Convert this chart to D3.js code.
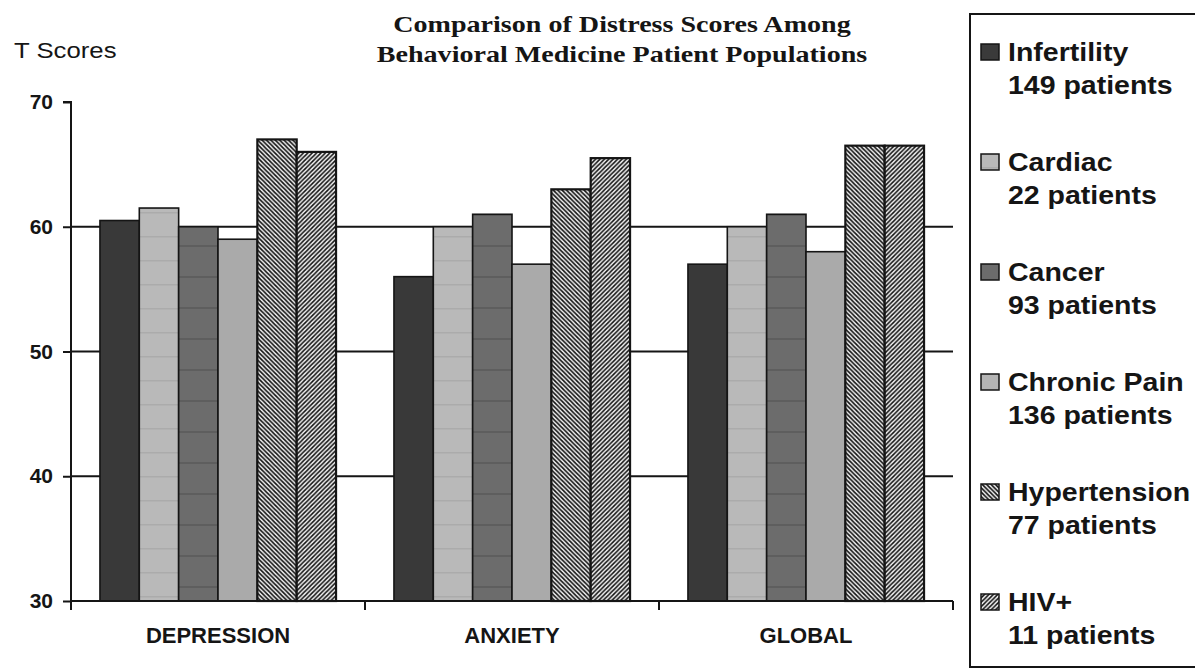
<!DOCTYPE html>
<html>
<head>
<meta charset="utf-8">
<script src="https://cdn.jsdelivr.net/npm/d3@7"></script>
<style>
  html, body { margin: 0; padding: 0; background: #ffffff; }
  svg { display: block; }
</style>
</head>
<body>
<svg id="chart" width="1195" height="668"></svg>
<script>
// Distress scale categories along the x axis
const categories = ["DEPRESSION", "ANXIETY", "GLOBAL"];

// Patient populations (one bar per population within each category)
const populations = ["Infertility", "Cardiac", "Cancer", "Chronic Pain", "Hypertension", "HIV+"];
const patientCounts = [149, 22, 93, 136, 77, 11];

// Mean T scores per population, ordered as the categories
const infertility  = [60.5, 56, 57];
const cardiac      = [61.5, 60, 60];
const cancer       = [60, 61, 61];
const chronicPain  = [59, 57, 58];
const hypertension = [67, 63, 66.5];
const hiv          = [66, 65.5, 66.5];

const yTicks = [30, 40, 50, 60, 70];
const gridValues = [40, 50, 60];

const titleLines = ["Comparison of Distress Scores Among", "Behavioral Medicine Patient Populations"];
const yLabel = "T Scores";

const seriesValues = [infertility, cardiac, cancer, chronicPain, hypertension, hiv];
const fills = ["#393939", "url(#cardiacTex)", "url(#cancerTex)", "#aaaaaa", "url(#hatchBack)", "url(#hatchFwd)"];

const svg = d3.select("#chart");
const ink = "#151515";

// ---- patterns ----
const defs = svg.append("defs");
const hb = defs.append("pattern").attr("id", "hatchBack").attr("patternUnits", "userSpaceOnUse")
  .attr("width", 4.4).attr("height", 4.4);
hb.append("rect").attr("width", 4.4).attr("height", 4.4).attr("fill", "#f2f2f2");
hb.append("path").attr("d", "M-1,-1 L5.4,5.4 M-1,3.4 L1,5.4 M3.4,-1 L5.4,1")
  .attr("stroke", "#111").attr("stroke-width", 1.6);

const hf = defs.append("pattern").attr("id", "hatchFwd").attr("patternUnits", "userSpaceOnUse")
  .attr("width", 4.4).attr("height", 4.4);
hf.append("rect").attr("width", 4.4).attr("height", 4.4).attr("fill", "#f2f2f2");
hf.append("path").attr("d", "M-1,5.4 L5.4,-1 M-1,1 L1,-1 M3.4,5.4 L5.4,3.4")
  .attr("stroke", "#111").attr("stroke-width", 1.5);

const ct = defs.append("pattern").attr("id", "cancerTex").attr("patternUnits", "userSpaceOnUse")
  .attr("width", 40).attr("height", 31);
ct.append("rect").attr("width", 40).attr("height", 31).attr("fill", "#6c6c6c");
ct.append("rect").attr("y", 28).attr("width", 40).attr("height", 2).attr("fill", "#5e5e5e");

const cd = defs.append("pattern").attr("id", "cardiacTex").attr("patternUnits", "userSpaceOnUse")
  .attr("width", 40).attr("height", 24);
cd.append("rect").attr("width", 40).attr("height", 24).attr("fill", "#b9b9b9");
cd.append("rect").attr("y", 20).attr("width", 40).attr("height", 1.5).attr("fill", "#ababab");

// ---- scales ----
const x0 = d3.scaleBand().domain(categories).range([71, 953]).paddingInner(0.197).paddingOuter(0.0985);
const x1 = d3.scaleBand().domain(populations).range([0, x0.bandwidth()]);
const y = d3.scaleLinear().domain([30, 70]).range([601, 102]);

// helper: text with a horizontal stretch
function stretchedText(sel, x, yPos, str, sx, anchor) {
  return sel.append("text")
    .attr("transform", `translate(${x},${yPos}) scale(${sx},1)`)
    .attr("text-anchor", anchor || "start")
    .attr("fill", ink)
    .text(str);
}

// ---- gridlines ----
svg.append("g").selectAll("line").data(gridValues).join("line")
  .attr("x1", x0.range()[0]).attr("x2", x0.range()[1])
  .attr("y1", d => y(d)).attr("y2", d => y(d))
  .attr("stroke", ink).attr("stroke-width", 2);

// ---- bars ----
const groups = svg.append("g").selectAll("g").data(categories).join("g")
  .attr("transform", d => `translate(${x0(d)},0)`);

groups.selectAll("rect")
  .data((c, ci) => populations.map((p, pi) => ({ p, pi, v: seriesValues[pi][ci] })))
  .join("rect")
  .attr("x", d => x1(d.p))
  .attr("y", d => y(d.v))
  .attr("width", x1.bandwidth())
  .attr("height", d => y(30) - y(d.v))
  .attr("fill", d => fills[d.pi])
  .attr("stroke", ink)
  .attr("stroke-width", d => d.pi >= 4 ? 2.2 : 1.6);

// ---- y axis ----
const yAxis = d3.axisLeft(y).tickValues(yTicks).tickSize(8).tickPadding(10).tickFormat(d3.format("d"));
const yg = svg.append("g").attr("transform", "translate(71,0)").call(yAxis);
yg.select(".domain").attr("stroke", ink).attr("stroke-width", 2).attr("d", `M-8,${y(70)}H0V${y(30)}`);
yg.selectAll(".tick line").attr("stroke", ink).attr("stroke-width", 2);
yg.selectAll(".tick text")
  .attr("fill", ink).attr("font-family", "Liberation Sans, Arial, sans-serif")
  .attr("font-weight", "bold").attr("font-size", 21);

// ---- x axis ----
const xAxis = d3.axisBottom(x0).tickSize(0).tickPadding(26);
const xg = svg.append("g").attr("transform", `translate(0,${y(30)})`).call(xAxis);
xg.select(".domain").attr("stroke", ink).attr("stroke-width", 2)
  .attr("d", `M${x0.range()[0]},0H${x0.range()[1]}`);
xg.selectAll(".tick text")
  .attr("fill", ink).attr("font-family", "Liberation Sans, Arial, sans-serif")
  .attr("font-weight", "bold").attr("font-size", 22).attr("dy", "0.71em");

// category boundary ticks
const boundaries = d3.range(categories.length + 1).map(i => x0.range()[0] + i * x0.step());
xg.selectAll("line.bound").data(boundaries).join("line").attr("class", "bound")
  .attr("x1", d => d).attr("x2", d => d).attr("y1", 0).attr("y2", 9)
  .attr("stroke", ink).attr("stroke-width", 2);

// ---- title and axis label ----
const title = svg.append("g").attr("font-family", "Liberation Serif, Times New Roman, serif")
  .attr("font-weight", "bold").attr("font-size", 24);
titleLines.forEach((t, i) => stretchedText(title, 622, 32 + i * 30, t, 1.17, "middle"));

const yl = svg.append("g").attr("font-family", "Liberation Sans, Arial, sans-serif").attr("font-size", 22);
stretchedText(yl, 14, 58, yLabel, 1.17, "start");

// ---- legend ----
const legend = svg.append("g");
legend.append("rect").attr("x", 970).attr("y", 14).attr("width", 240).attr("height", 653)
  .attr("fill", "none").attr("stroke", ink).attr("stroke-width", 2);

const legendFills = ["#3a3a3a", "url(#cardiacTex)", "#6c6c6c", "#b4b4b4", "url(#hatchBack)", "url(#hatchFwd)"];
const item = legend.selectAll("g.item").data(populations).join("g").attr("class", "item")
  .attr("transform", (d, i) => `translate(0,${61 + i * 110})`)
  .attr("font-family", "Liberation Sans, Arial, sans-serif").attr("font-weight", "bold").attr("font-size", 25);

item.append("rect").attr("x", 981).attr("y", -17).attr("width", 18).attr("height", 16)
  .attr("fill", (d, i) => legendFills[i]).attr("stroke", ink).attr("stroke-width", 1.5);
item.each(function (d, i) {
  const g = d3.select(this);
  stretchedText(g, 1008, 0, d, 1.14, "start");
  stretchedText(g, 1008, 33, `${patientCounts[i]} patients`, 1.14, "start");
});
</script>
</body>
</html>
